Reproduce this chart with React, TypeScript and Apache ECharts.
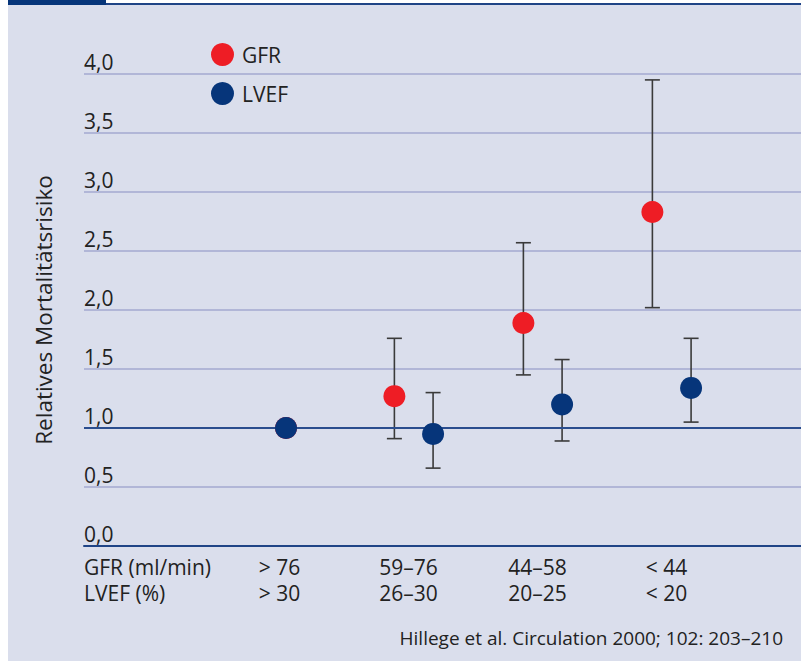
import React, { useEffect, useRef } from "react";
import * as echarts from "echarts";

const gfrCategories = ["> 76", "59–76", "44–58", "< 44"];
const lvefCategories = ["> 30", "26–30", "20–25", "< 20"];
const gfrValues = [1.0, 1.27, 1.89, 2.83];
const gfrLow = [null, 0.91, 1.45, 2.02];
const gfrHigh = [null, 1.76, 2.57, 3.95];
const lvefValues = [1.0, 0.95, 1.2, 1.34];
const lvefLow = [null, 0.66, 0.89, 1.05];
const lvefHigh = [null, 1.3, 1.58, 1.76];
const yTicks = [0, 0.5, 1, 1.5, 2, 2.5, 3, 3.5, 4];

const FONT = "Open Sans";
const RED = "#ee1d25";
const BLUE = "#06357a";

const GFR_OFF = -0.16;
const LVEF_OFF = 0.14;
const LABEL_OFF = -0.05;

export default function App() {
  const ref = useRef<HTMLDivElement>(null);
  useEffect(() => {
    const chart = echarts.init(ref.current!, null, { renderer: "svg" });
    const pos = (i: number, off: number) => (i === 0 ? 0 : i + off);
    const gfrPts = gfrValues.map((v, i) => [pos(i, GFR_OFF), v]);
    const lvefPts = lvefValues.map((v, i) => [pos(i, LVEF_OFF), v]);
    const errData: number[][] = [];
    gfrValues.forEach((_, i) => {
      if (gfrLow[i] != null) errData.push([pos(i, GFR_OFF), gfrLow[i] as number, gfrHigh[i] as number]);
    });
    lvefValues.forEach((_, i) => {
      if (lvefLow[i] != null) errData.push([pos(i, LVEF_OFF), lvefLow[i] as number, lvefHigh[i] as number]);
    });
    const labelPos = gfrCategories.map((_, i) => i + LABEL_OFF);

    chart.setOption({
      animation: false,
      backgroundColor: "#dadeec",
      textStyle: { fontFamily: FONT },
      grid: { left: 84, right: 0, top: 74, bottom: 115 },
      xAxis: {
        type: "value",
        min: -1.566,
        max: 3.992,
        splitLine: { show: false },
        axisTick: { show: false },
        axisLine: { show: true, lineStyle: { color: "#1f4486", width: 2 } },
        axisLabel: {
          customValues: labelPos,
          margin: 8,
          fontSize: 21,
          lineHeight: 26,
          color: "#222",
          fontFamily: FONT,
          formatter: (v: number) => {
            const i = Math.round(v - LABEL_OFF);
            return gfrCategories[i] + "\n" + lvefCategories[i];
          },
        },
      },
      yAxis: {
        type: "value",
        min: 0,
        max: 4,
        interval: 0.5,
        name: "Relatives Mortalitätsrisiko",
        nameLocation: "middle",
        nameGap: 29,
        nameRotate: 90,
        nameTextStyle: { fontSize: 22.5, color: "#222", fontFamily: FONT },
        axisLine: { show: false },
        axisTick: { show: false },
        splitLine: { lineStyle: { color: "#a3a9d0", width: 1.5 } },
        axisLabel: {
          inside: true,
          margin: 0,
          fontSize: 21,
          color: "#222",
          fontFamily: FONT,
          verticalAlign: "bottom",
          padding: [0, 0, 2, 0],
          customValues: yTicks,
          formatter: (v: number) => v.toFixed(1).replace(".", ","),
        },
      },
      legend: {
        data: ["GFR", "LVEF"],
        orient: "vertical",
        left: 206,
        top: 38,
        icon: "circle",
        itemWidth: 23,
        itemHeight: 23,
        itemGap: 16,
        itemStyle: { opacity: 1 },
        textStyle: { fontSize: 21, color: "#222", fontFamily: FONT, padding: [0, 0, 0, 3] },
      },
      graphic: [
        { type: "rect", shape: { x: 0, y: 0, width: 8, height: 661 }, style: { fill: "#fff" }, silent: true },
        { type: "rect", shape: { x: 8, y: 0, width: 793, height: 3 }, style: { fill: "#fff" }, silent: true },
        { type: "rect", shape: { x: 106, y: 3, width: 695, height: 2 }, style: { fill: "#1f4486" }, silent: true },
        { type: "rect", shape: { x: 8, y: 0, width: 98, height: 5 }, style: { fill: BLUE }, silent: true },
        {
          type: "text",
          left: 84,
          top: 554,
          style: { text: "GFR (ml/min)\nLVEF (%)", fontSize: 21, lineHeight: 26, fill: "#222", fontFamily: FONT },
        },
        {
          type: "text",
          right: 18,
          top: 628,
          style: { text: "Hillege et al. Circulation 2000; 102: 203–210", fontSize: 19, fill: "#222", fontFamily: FONT },
        },
      ],
      series: [
        {
          type: "line",
          data: [],
          markLine: {
            silent: true,
            symbol: "none",
            label: { show: false },
            lineStyle: { color: "#2a4d8e", width: 2, type: "solid" },
            data: [{ yAxis: 1 }],
          },
        },
        {
          type: "custom",
          z: 3,
          data: errData,
          renderItem: (params: any, api: any) => {
            const x = api.value(0);
            const lo = api.coord([x, api.value(1)]);
            const hi = api.coord([x, api.value(2)]);
            const w = 7.5;
            const style = { stroke: "#3a3a3a", lineWidth: 1.6 };
            return {
              type: "group",
              children: [
                { type: "line", shape: { x1: lo[0], y1: lo[1], x2: hi[0], y2: hi[1] }, style },
                { type: "line", shape: { x1: lo[0] - w, y1: lo[1], x2: lo[0] + w, y2: lo[1] }, style },
                { type: "line", shape: { x1: hi[0] - w, y1: hi[1], x2: hi[0] + w, y2: hi[1] }, style },
              ],
            };
          },
        },
        {
          name: "GFR",
          type: "scatter",
          z: 4,
          symbol: "circle",
          symbolSize: 22,
          itemStyle: { color: RED, opacity: 1 },
          data: gfrPts,
        },
        {
          name: "LVEF",
          type: "scatter",
          z: 5,
          symbol: "circle",
          symbolSize: 22,
          itemStyle: { color: BLUE, opacity: 1 },
          data: lvefPts,
        },
      ],
    });
    return () => chart.dispose();
  }, []);
  return (
    <div
      ref={ref}
      style={{ position: "absolute", left: 0, top: 0, width: 801, height: 661, background: "#fff" }}
    />
  );
}
